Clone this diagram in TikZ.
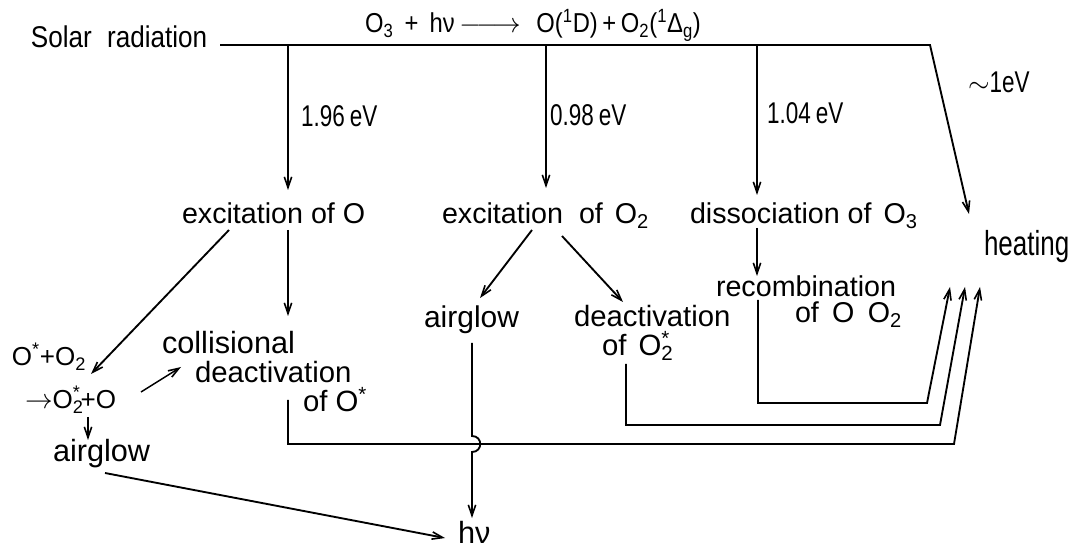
\documentclass[tikz,border=0pt]{standalone}
\usepackage{fontspec}
\setmainfont{Liberation Sans}
\newfontfamily\cond{Liberation Sans}[FakeStretch=0.75]
\newfontfamily\condm{Liberation Sans}[FakeStretch=0.87]
\usetikzlibrary{arrows.meta}
\newcommand\fsz[1]{\fontsize{#1pt}{#1pt}\selectfont}
\newcommand\Ostar[2]{O\rlap{\textsubscript{#1}}\textsuperscript{#2}}
\begin{document}
\begin{tikzpicture}[x=0.75pt,y=-0.75pt,line width=1.4pt,
  arr/.style={-{Straight Barb[length=8pt,width=5.5pt,line width=1.2pt]}},
  lbl/.style={anchor=base west,inner sep=0pt,outer sep=0pt}]
\fill[white] (0,0) rectangle (1081,548);
\useasboundingbox (0,0) rectangle (1081,548);
% ---- text nodes ----
\node[lbl] (solar) at (31,48) {\condm\fsz{22.5}Solar\hspace{6pt} radiation};
\node[lbl] (eq) at (365,33) {\condm\fsz{20.5}O\textsubscript{3}\, + \,hν\,$\relbar\joinrel\longrightarrow$\,\, O(\textsuperscript{1}D)\,+\,O\textsubscript{2}(\textsuperscript{1}Δ\textsubscript{g})};
\node[lbl] (e1) at (301,127) {\cond\fsz{22.5}1.96\,eV};
\node[lbl] (e2) at (550,126) {\cond\fsz{22.5}0.98\,eV};
\node[lbl] (e3) at (767,124) {\cond\fsz{22.5}1.04\,eV};
\node[lbl] (e4) at (968,93) {\cond\fsz{22.5}$\sim$1eV};
\node[lbl] (excO) at (182,224) {\fsz{21.5}excitation of O};
\node[lbl] (excOO) at (442,224) {\fsz{21.5}excitation\hspace{6pt} of\hspace{3pt} O\textsubscript{2}};
\node[lbl] (diss) at (690,224) {\fsz{21.5}dissociation of\hspace{3pt} O\textsubscript{3}};
\node[lbl] (heat) at (984,256) {\cond\fsz{26}heating};
\node[lbl] (recA) at (716,297) {\fsz{21.5}recombination};
\node[lbl] (recB) at (795,323) {\fsz{21.5}of\hspace{4pt} O\hspace{4pt} O\textsubscript{2}};
\node[lbl] (agM) at (424,328) {\fsz{22.5}airglow};
\node[lbl] (deA) at (574,327) {\fsz{22}deactivation};
\node[lbl] (deB) at (602,356) {\fsz{22}of\hspace{3pt} \Ostar{2}{*}};
\node[lbl] (collA) at (162,354) {\fsz{23}collisional};
\node[lbl] (collB) at (195,383) {\fsz{22}deactivation};
\node[lbl] (collC) at (303,412) {\fsz{22}of O\textsuperscript{*}};
\node[lbl] (r1) at (12,366) {\fsz{19.5}O\textsuperscript{*}+O\textsubscript{2}};
\node[lbl] (r2) at (25,409) {\fsz{19.5}$\rightarrow$\Ostar{2}{*}+O};
\node[lbl] (agL) at (53,462) {\fsz{23}airglow};
\node[lbl] (hnu) at (458,543) {\fsz{23}hν};
% ---- junction coordinates ----
\coordinate (srcL) at (220,45);
\coordinate (topR) at (930,45);
\coordinate (heatT) at (969,214);
\coordinate (j1) at (288,45);
\coordinate (j2) at (546,45);
\coordinate (j3) at (757,45);
\coordinate (t1) at (288,190);
\coordinate (t2) at (546,188);
\coordinate (t3) at (757,195);
\coordinate (excOa) at (229,230);
\coordinate (r2t) at (91,374);
\coordinate (excOb) at (288,230);
\coordinate (collT) at (288,316);
\coordinate (excOOa) at (532,230);
\coordinate (agMt) at (480,298);
\coordinate (excOOb) at (562,236);
\coordinate (deAt) at (623,302);
\coordinate (dissb) at (757,228);
\coordinate (recAt) at (757,276);
\coordinate (r2a) at (88,417);
\coordinate (agLt) at (88,440);
\coordinate (r2b) at (141,392);
\coordinate (collAt) at (181,367);
\coordinate (agLb) at (105,473);
\coordinate (hnuL) at (445,538);
\coordinate (agMb) at (472,343);
\coordinate (jmpA) at (472,436);
\coordinate (jmpB) at (472,452);
\coordinate (hnuT) at (472,518);
\coordinate (recS) at (758,300);
\coordinate (recC1) at (758,403);
\coordinate (recC2) at (927,403);
\coordinate (hA) at (950,287);
\coordinate (deS) at (626,364);
\coordinate (deC1) at (626,425);
\coordinate (deC2) at (940,425);
\coordinate (hB) at (965,287);
\coordinate (coS) at (288,400);
\coordinate (coC1) at (288,444);
\coordinate (coC2) at (954,444);
\coordinate (hC) at (980,287);
% ---- connectors ----
\draw[arr] (srcL) -- (topR) -- (heatT);
\draw[arr] (j1) -- (t1);
\draw[arr] (j2) -- (t2);
\draw[arr] (j3) -- (t3);
\draw[arr] (excOa) -- (r2t);
\draw[arr] (excOb) -- (collT);
\draw[arr] (excOOa) -- (agMt);
\draw[arr] (excOOb) -- (deAt);
\draw[arr] (dissb) -- (recAt);
\draw[arr,line width=1.1pt] (r2a) -- (agLt);
\draw[arr,line width=1.1pt] (r2b) -- (collAt);
\draw[arr] (agLb) -- (hnuL);
\draw[arr] (agMb) -- (jmpA) .. controls (483,436) and (483,452) .. (jmpB) -- (hnuT);
\draw[arr] (recS) -- (recC1) -- (recC2) -- (hA);
\draw[arr] (deS) -- (deC1) -- (deC2) -- (hB);
\draw[arr] (coS) -- (coC1) -- (coC2) -- (hC);
\end{tikzpicture}
\end{document}
